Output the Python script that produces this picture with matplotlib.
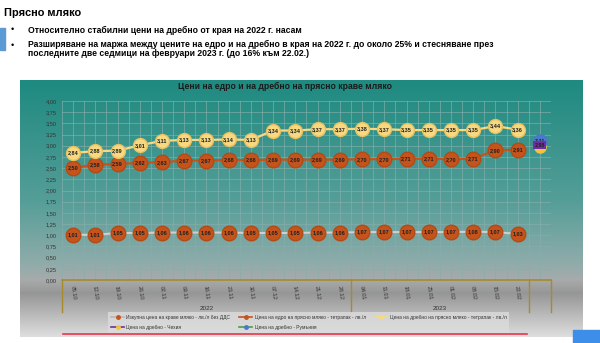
import matplotlib
matplotlib.use('Agg')
import matplotlib.pyplot as plt
from matplotlib.colors import LinearSegmentedColormap
from matplotlib.lines import Line2D
from matplotlib.patches import Rectangle
import numpy as np

# weekly dates, the last slot is for the country comparison
weeks = ['05.10', '12.10', '19.10', '26.10', '02.11', '09.11', '16.11', '23.11',
         '30.11', '07.12', '14.12', '21.12', '28.12', '04.01', '11.01', '18.01',
         '25.01', '01.02', '08.02', '15.02', '22.02', '']
years = ['2022', '2023']
year_bounds = [0, 13, 21, 22]

raw_milk = [1.01, 1.01, 1.05, 1.05, 1.06, 1.06, 1.06, 1.06, 1.05, 1.05, 1.05,
            1.06, 1.06, 1.07, 1.07, 1.07, 1.07, 1.07, 1.08, 1.07, 1.03]
wholesale = [2.50, 2.58, 2.59, 2.62, 2.63, 2.67, 2.67, 2.68, 2.68, 2.69, 2.69,
             2.69, 2.69, 2.70, 2.70, 2.71, 2.71, 2.70, 2.71, 2.90, 2.91]
retail = [2.84, 2.88, 2.89, 3.01, 3.11, 3.13, 3.13, 3.14, 3.13, 3.34, 3.34,
          3.37, 3.37, 3.38, 3.37, 3.35, 3.35, 3.35, 3.35, 3.44, 3.36]
czech_retail = 2.98
romania_retail = 3.11

legend_labels = ['Изкупна цена на краве мляко - лв./л без ДДС',
                 'Цена на едро на прясно мляко - тетрапак - лв./л',
                 'Цена на дребно на прясно мляко - тетрапак - лв./л',
                 'Цена на дребно - Чехия',
                 'Цена на дребно - Румъния']

plt.rcParams['font.family'] = ['Liberation Sans', 'DejaVu Sans']

ORANGE = '#c5531c'
YELLOW = '#f8d982'
GRAY_LINE = '#cfcfcf'
OLIVE = '#a68b2a'


def fmt(v):
    return f'{v:.2f}'.replace('.', ',')


def main():
    fig = plt.figure(figsize=(6, 3.43), dpi=100)
    W, H = 600, 343

    def fx(px):
        return px / W

    def fy(py):
        return 1 - py / H

    # header
    fig.text(fx(4), fy(13), 'Прясно мляко', fontsize=7.9, weight='bold', va='center')
    fig.add_artist(Rectangle((0, fy(50)), fx(5), 22 / H, transform=fig.transFigure,
                             color='#5b9bd5'))
    fig.text(fx(11), fy(30), '•', fontsize=6.5, va='center')
    fig.text(fx(28), fy(30), 'Относително стабилни цени на дребно от края на 2022 г. насам',
             fontsize=6.2, weight='bold', va='center')
    fig.text(fx(11), fy(45), '•', fontsize=6.5, va='center')
    fig.text(fx(28), fy(44), 'Разширяване на маржа между цените на едро и на дребно в края на '
             '2022 г. до около 25% и стесняване през', fontsize=6.2, weight='bold', va='center')
    fig.text(fx(28), fy(53), 'последните две седмици на февруари 2023 г. (до 16% към 22.02.)',
             fontsize=6.2, weight='bold', va='center')

    # chart panel background gradient
    bg = fig.add_axes([fx(20), fy(337), fx(563), 257 / H])
    cmap = LinearSegmentedColormap.from_list('panel', [
        (0.0, (30 / 255, 138 / 255, 128 / 255)),
        (0.47, (85 / 255, 158 / 255, 152 / 255)),
        (0.72, (145 / 255, 172 / 255, 170 / 255)),
        (0.78, (168 / 255, 170 / 255, 170 / 255)),
        (0.83, (150 / 255, 150 / 255, 150 / 255)),
        (1.0, (222 / 255, 222 / 255, 222 / 255))])
    grad = np.linspace(0, 1, 256).reshape(-1, 1)
    bg.imshow(grad, aspect='auto', cmap=cmap, extent=[0, 1, 0, 1])
    bg.axis('off')

    fig.text(fx(285), fy(86), 'Цени на едро и на дребно на прясно краве мляко',
             fontsize=6.2, weight='bold', ha='center', va='center', color='#1a1a1a')

    ax = fig.add_axes([fx(62), fy(280), fx(489), 179 / H])
    ax.patch.set_alpha(0)
    ax.set_xlim(-0.5, len(weeks) - 0.5)
    ax.set_ylim(0, 4)

    ax.set_yticks(np.arange(0, 4.01, 0.25))
    ax.set_yticklabels([fmt(t) for t in np.arange(0, 4.01, 0.25)])
    ax.set_xticks(range(len(weeks)))
    ax.set_xticklabels(weeks, rotation=-82, ha='center', va='top')
    ax.set_xticks(np.arange(-0.5, len(weeks), 1), minor=True)
    ax.tick_params(axis='both', which='both', length=0, labelsize=4.1,
                   labelcolor='#333333')
    ax.tick_params(axis='x', pad=4)
    ax.tick_params(axis='y', pad=4)
    ax.grid(True, which='both', color='#86aeac', alpha=0.75, linewidth=0.6)
    ax.set_axisbelow(True)
    for s in ['left', 'right', 'top']:
        ax.spines[s].set_visible(False)
    ax.spines['bottom'].set_color(OLIVE)
    ax.spines['bottom'].set_linewidth(1.2)

    # category group axis (years)
    xt = ax.get_xaxis_transform()
    for b in year_bounds:
        ax.plot([b - 0.5, b - 0.5], [0, -32 / 179], transform=xt, color=OLIVE,
                linewidth=1, clip_on=False)
    for name, a, b in zip(years, year_bounds[:-2], year_bounds[1:-1]):
        ax.text((a + b - 1) / 2, -28 / 179, name, transform=xt, ha='center',
                va='center', fontsize=4.6, color='#333333')

    x = np.arange(len(retail))
    ax.plot(x, raw_milk, color=GRAY_LINE, linewidth=1.5, marker='o', markersize=10.5,
            markerfacecolor=ORANGE, markeredgecolor='#b44a14', zorder=3)
    ax.plot(x, wholesale, color=ORANGE, linewidth=1.6, marker='o', markersize=10.5,
            markerfacecolor=ORANGE, markeredgecolor='#b44a14', zorder=3)
    ax.plot(x, retail, color=YELLOW, linewidth=1.6, marker='o', markersize=10,
            markerfacecolor=YELLOW, markeredgecolor='#e8c060', zorder=3)

    for series in (raw_milk, wholesale, retail):
        for i, v in enumerate(series):
            ax.text(i, v, fmt(v), ha='center', va='center', fontsize=4.0,
                    weight='bold', color='#202020', zorder=4)

    cx = len(weeks) - 1
    ax.plot([cx], [romania_retail], marker='o', markersize=9.5, color='#4a78cc',
            zorder=5)
    ax.text(cx, romania_retail, fmt(romania_retail), ha='center', va='center',
            fontsize=3.9, weight='bold', color='#202020', zorder=5)
    ax.plot([cx], [czech_retail], marker='o', markersize=8, color='#f2c43c',
            zorder=6)
    ax.text(cx, czech_retail + 0.04, fmt(czech_retail), ha='center', va='center',
            fontsize=3.9, weight='bold', color='#202020', zorder=7,
            bbox=dict(boxstyle='square,pad=0.25', fc='#7030a0', ec='none'))

    # legend, ordered so that rows read left to right
    handles = [
        Line2D([], [], color='#b8b8b8', lw=1.2, marker='o', markersize=2.5,
               markerfacecolor=ORANGE, markeredgecolor=ORANGE),
        Line2D([], [], color=ORANGE, lw=1.2, marker='o', markersize=2.5,
               markerfacecolor=ORANGE, markeredgecolor=ORANGE),
        Line2D([], [], color=YELLOW, lw=1.2, marker='o', markersize=2.5,
               markerfacecolor=YELLOW, markeredgecolor=YELLOW),
        Line2D([], [], color='#7030a0', lw=1.2, marker='o', markersize=2.5,
               markerfacecolor='#f2c43c', markeredgecolor='#f2c43c'),
        Line2D([], [], color='#4aa040', lw=1.2, marker='o', markersize=2.5,
               markerfacecolor='#4a78cc', markeredgecolor='#4a78cc'),
    ]
    order = [0, 3, 1, 4, 2]
    leg = fig.legend([handles[i] for i in order], [legend_labels[i] for i in order],
                     loc='upper left', bbox_to_anchor=(fx(106), fy(310)), ncol=3,
                     fontsize=3.55, frameon=True, fancybox=False, handlelength=2.6,
                     handletextpad=0.5, columnspacing=1.8, borderpad=0.55,
                     labelspacing=0.95, labelcolor='#333333')
    leg.get_frame().set_facecolor('#dcdcdc')
    leg.get_frame().set_edgecolor('none')

    # player bar strip at the bottom of the capture
    fig.add_artist(Line2D([fx(63), fx(527)], [fy(334), fy(334)], color='#e8364a',
                          lw=1.2, transform=fig.transFigure))
    fig.add_artist(Rectangle((fx(573), 0), fx(27), 13 / H, transform=fig.transFigure,
                             color='#3c8ee8'))

    fig.savefig('out.png', dpi=100)
    plt.close(fig)


if __name__ == '__main__':
    main()
